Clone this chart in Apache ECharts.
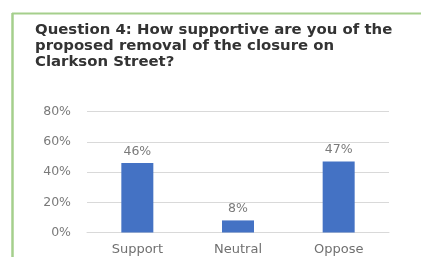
<!DOCTYPE html>
<html>
<head>
<meta charset="utf-8">
<script src="https://cdn.jsdelivr.net/npm/echarts@6/dist/echarts.min.js"></script>
<style>
  html, body { margin: 0; padding: 0; background: #fff; }
  #chart { width: 421px; height: 257px; }
</style>
</head>
<body>
<div id="chart"></div>
<script>
// survey answers
let categories = ['Support', 'Neutral', 'Oppose'];
let shares = [46, 8, 47];
let titleLines = [
  'Question 4: How supportive are you of the',
  'proposed removal of the closure on',
  'Clarkson Street?'
];

let chart = echarts.init(document.getElementById('chart'), null, {
  renderer: 'canvas'
});

let option = {
  animation: false,
  backgroundColor: '#fff',
  title: {
    text: titleLines.join('\n'),
    left: 30,
    top: 17,
    textStyle: {
      fontFamily: 'DejaVu Sans',
      fontWeight: 'bold',
      fontSize: 14.9,
      lineHeight: 16.2,
      color: '#333'
    }
  },
  graphic: [{
    type: 'line',
    shape: { x1: 12, y1: 13.5, x2: 421, y2: 13.5 },
    style: { stroke: '#a5cf8c', lineWidth: 2 }
  }, {
    type: 'line',
    shape: { x1: 12.5, y1: 13, x2: 12.5, y2: 257 },
    style: { stroke: '#a5cf8c', lineWidth: 2.5 }
  }],
  grid: {
    left: 87,
    right: 32,
    top: 111.7,
    bottom: 24.5
  },
  xAxis: {
    type: 'category',
    data: categories,
    axisTick: { show: false },
    axisLine: { lineStyle: { color: '#d9d9d9' } },
    axisLabel: {
      color: '#707070',
      fontFamily: 'DejaVu Sans',
      fontSize: 13,
      margin: 11
    }
  },
  yAxis: {
    type: 'value',
    min: 0,
    max: 80,
    interval: 20,
    axisLine: { show: false },
    axisTick: { show: false },
    splitLine: { lineStyle: { color: '#d9d9d9' } },
    axisLabel: {
      formatter: '{value}%',
      color: '#7a7a7a',
      fontFamily: 'DejaVu Sans',
      fontSize: 12.5,
      margin: 16
    }
  },
  series: [{
    type: 'bar',
    data: shares,
    barWidth: 32,
    itemStyle: { color: '#4472c4' },
    label: {
      show: true,
      position: 'top',
      distance: 5,
      formatter: '{c}%',
      color: '#7a7a7a',
      fontFamily: 'DejaVu Sans',
      fontSize: 12.5
    }
  }]
};

chart.setOption(option);
</script>
</body>
</html>
